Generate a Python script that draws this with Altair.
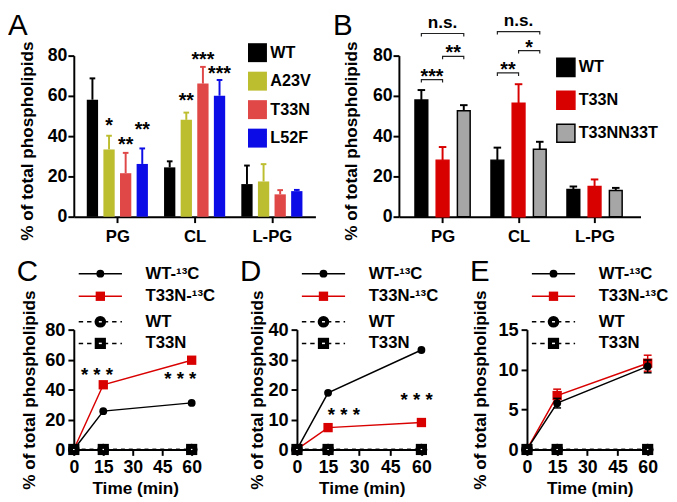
import json
import altair as alt
import pandas as pd

FONT = "Liberation Sans"
RED = "#d90000"

# ---------------- data ----------------
CATS = ["PG", "CL", "L-PG"]

A_SERIES = ["WT", "A23V", "T33N", "L52F"]
A_COLORS = ["#000000", "#bdbd30", "#e04848", "#0c0ce6"]
A_MEAN = {"WT": [58.1, 24.5, 16.2], "A23V": [33.4, 48.1, 17.5],
          "T33N": [21.6, 66.1, 11.1], "L52F": [26.2, 60.1, 12.7]}
A_ERR = {"WT": [10.6, 3.0, 9.2], "A23V": [6.8, 3.6, 8.6],
         "T33N": [10.1, 8.3, 2.1], "L52F": [7.7, 7.8, 0.6]}
A_STARS = [("PG", "A23V", "*", 47.4), ("PG", "T33N", "**", 37.8), ("PG", "L52F", "**", 45.5),
           ("CL", "A23V", "**", 59.6), ("CL", "T33N", "***", 80.2), ("CL", "L52F", "***", 73.1)]

B_SERIES = ["WT", "T33N", "T33NN33T"]
B_COLORS = ["#000000", "#d90000", "#a6a6a6"]
B_STROKES = ["#000000", "#d90000", "#000000"]
B_MEAN = {"WT": [58.0, 28.1, 13.5], "T33N": [28.1, 56.3, 15.0], "T33NN33T": [52.6, 33.5, 13.0]}
B_ERR = {"WT": [4.9, 6.2, 1.5], "T33N": [6.5, 9.5, 3.5], "T33NN33T": [2.8, 3.7, 1.3]}
B_BRACKETS = [("PG", "WT", "T33N", "***", 68.1), ("PG", "T33N", "T33NN33T", "**", 79.6),
              ("PG", "WT", "T33NN33T", "n.s.", 91.0), ("CL", "WT", "T33N", "**", 71.4),
              ("CL", "T33N", "T33NN33T", "*", 82.5), ("CL", "WT", "T33NN33T", "n.s.", 91.9)]

TIME = [0, 15, 60]
TIME_TICKS = [0, 15, 30, 45, 60]
UNLAB_WT = [0, 0, 0]
UNLAB_T33N = [0, 0, 0]
C_WT13 = [0, 25.6, 31.1]
C_T13 = [0, 43.2, 59.6]
C_STARS = [(11.8, 52.6), (54.2, 49.7)]
D_WT13 = [0, 18.9, 33.2]
D_T13 = [0, 7.3, 9.0]
D_STARS = [(22.6, 12.7), (57.7, 17.7)]
E_WT13 = [0, 5.8, 10.4]
E_WT13_ERR = [0, 0.6, 0.8]
E_T13 = [0, 6.75, 10.8]
E_T13_ERR = [0, 0.8, 1.0]
E_STARS = []

LEGEND_LABELS = ["WT-\u00b9\u00b3C", "T33N-\u00b9\u00b3C", "WT", "T33N"]

YTITLE = "% of total phospholipids"
ONE = pd.DataFrame({"k": [0]})


def letter_layer(letter, x, y):
    return alt.Chart(ONE).mark_text(align="left", baseline="alphabetic", font=FONT,
                                    fontSize=30, color="black").encode(
        x=alt.value(x), y=alt.value(y), text=alt.value(letter))


def ytitle_layer(cx, cy):
    # rotated y-axis title; cx/cy = centre of the ink, baseline sits 0.255em to its right
    return alt.Chart(ONE).mark_text(angle=270, align="center", baseline="alphabetic", font=FONT,
                                    fontSize=17.5, fontWeight="bold", color="black").encode(
        x=alt.value(cx + 4.5), y=alt.value(cy), text=alt.value(YTITLE))


# ---------------- bar panels ----------------
def bar_panel(letter, series, fills, strokes, means, errs, stars, brackets, step, bar_w,
              cap_px, xdom, width, height, legend, title_cx, bar_stroke_w):
    n = len(series)
    ppu = width / (xdom[1] - xdom[0])
    cap = cap_px / ppu

    def pos(cat, s):
        return CATS.index(cat) + (series.index(s) - (n - 1) / 2) * step

    rows = []
    for s in series:
        for gi, c in enumerate(CATS):
            m, e = means[s][gi], errs[s][gi]
            p = pos(c, s)
            rows.append(dict(series=s, pos=p, mean=m, top=m + e, capl=p - cap, capr=p + cap))
    df = pd.DataFrame(rows)

    xs = alt.Scale(domain=xdom, nice=False, zero=False)
    xax = alt.Axis(values=list(range(len(CATS))), labelExpr=f"{json.dumps(CATS)}[datum.value]",
                   title=None, labelFontSize=17, labelPadding=6)
    ys = alt.Scale(domain=[0, 80], nice=False)
    yax = alt.Axis(values=[0, 20, 40, 60, 80], title=None, labelFontSize=18, labelPadding=1)

    def X(f):
        return alt.X(f, scale=xs, axis=xax)

    def Y(f):
        return alt.Y(f, scale=ys, axis=yax)

    fill = alt.Fill("series:N", scale=alt.Scale(domain=series, range=fills), legend=legend)
    stroke = alt.Stroke("series:N", scale=alt.Scale(domain=series, range=strokes), legend=legend)

    layers = [
        alt.Chart(df).mark_bar(orient="vertical", size=bar_w, strokeWidth=bar_stroke_w).encode(
            x=X("pos:Q"), y=Y("mean:Q"), fill=fill, stroke=stroke),
        alt.Chart(df).mark_rule(strokeWidth=2).encode(
            x=X("pos:Q"), y=Y("mean:Q"), y2="top:Q", stroke=stroke),
        alt.Chart(df).mark_rule(strokeWidth=2).encode(
            x=X("capl:Q"), x2="capr:Q", y=Y("top:Q"), stroke=stroke),
    ]
    if stars:
        sdf = pd.DataFrame([dict(pos=pos(c, s), val=v, label=l) for c, s, l, v in stars])
        layers.append(alt.Chart(sdf).mark_text(font=FONT, fontSize=20, fontWeight="bold",
                                               baseline="alphabetic", dy=11, color="black").encode(
            x=X("pos:Q"), y=Y("val:Q"), text="label:N"))
    if brackets:
        drop = 3 / (height / 80)
        lrows, trows = [], []
        for i, (c, s1, s2, l, lev) in enumerate(brackets):
            x1, x2 = pos(c, s1), pos(c, s2)
            for o, (xx, yy) in enumerate([(x1, lev - drop), (x1, lev), (x2, lev), (x2, lev - drop)]):
                lrows.append(dict(bid=i, o=o, bx=xx, by=yy))
            trows.append(dict(tx=(x1 + x2) / 2, ty=lev, label=l, ns=(l == "n.s.")))
        ldf = pd.DataFrame(lrows)
        tdf = pd.DataFrame(trows)
        layers.append(alt.Chart(ldf).mark_line(color="#222222", strokeWidth=1.2).encode(
            x=X("bx:Q"), y=Y("by:Q"), detail="bid:N", order="o:Q"))
        layers.append(alt.Chart(tdf[~tdf.ns]).mark_text(font=FONT, fontSize=20, fontWeight="bold",
                                                        baseline="alphabetic", dy=3, color="black").encode(
            x=X("tx:Q"), y=Y("ty:Q"), text="label:N"))
        layers.append(alt.Chart(tdf[tdf.ns]).mark_text(font=FONT, fontSize=17.5, fontWeight="bold",
                                                       baseline="alphabetic", dy=-6, color="black").encode(
            x=X("tx:Q"), y=Y("ty:Q"), text="label:N"))
    layers.append(ytitle_layer(title_cx, 87))
    layers.append(letter_layer(letter, -67, -21))
    return alt.layer(*layers).properties(width=width, height=height)


legA = alt.Legend(orient="none", legendX=177, legendY=-13, title=None, symbolType="square",
                  symbolSize=372, symbolStrokeWidth=0, labelFont=FONT, labelFontSize=16.5,
                  labelFontWeight="bold", labelColor="black", rowPadding=9, labelOffset=3, padding=0,
                  symbolOpacity=1)
legB = alt.Legend(orient="none", legendX=160, legendY=2, title=None, symbolType="square",
                  symbolSize=340, symbolStrokeWidth=1.5, labelFont=FONT, labelFontSize=16.5,
                  labelFontWeight="bold", labelColor="black", rowPadding=7.5, labelOffset=3, padding=0,
                  symbolOpacity=1)

A = bar_panel("A", A_SERIES, A_COLORS, A_COLORS, A_MEAN, A_ERR, A_STARS, None, 0.215, 11.5,
              3, [-0.5, 2.5], 246, 164, legA, -46.5, 0)
B = bar_panel("B", B_SERIES, B_COLORS, B_STROKES, B_MEAN, B_ERR, None, B_BRACKETS, 0.279, 13,
              4, [-0.51, 2.54], 246, 164, legB, -47.5, 1.5)

# ---------------- line panels ----------------
XMAX = 62.5
LEG_Y = [-57, -34, -8, 14]


def line_panel(letter, wt13, t13, ymax, yticks, stars, width, title_cx, wt_err=None, t_err=None):
    height = 122
    ppm = width / XMAX
    cap = 4 / ppm
    xs = alt.Scale(domain=[0, XMAX], nice=False, zero=False)
    xax = alt.Axis(values=TIME_TICKS, title="Time (min)", titleY=45, titleBaseline="alphabetic",
                   titleFontSize=17.5, labelFontSize=18, labelPadding=3)
    ys = alt.Scale(domain=[0, ymax], nice=False)
    yax = alt.Axis(values=yticks, title=None, labelFontSize=18.5, labelPadding=3)

    def X(f):
        return alt.X(f, scale=xs, axis=xax)

    def Y(f):
        return alt.Y(f, scale=ys, axis=yax)

    def frame(vals, errs=None):
        d = pd.DataFrame({"time": TIME, "value": vals})
        if errs is not None:
            d["err"] = errs
            d["lo"] = d["value"] - d["err"]
            d["hi"] = d["value"] + d["err"]
            d["capl"] = d["time"] - cap
            d["capr"] = d["time"] + cap
            d = d[d["err"] > 0]
        return d

    def errlayers(vals, errs, col):
        d = frame(vals, errs)
        return [
            alt.Chart(d).mark_rule(color=col, strokeWidth=1.5).encode(x=X("time:Q"), y=Y("lo:Q"), y2="hi:Q"),
            alt.Chart(d).mark_rule(color=col, strokeWidth=1.5).encode(x=X("capl:Q"), x2="capr:Q", y=Y("hi:Q")),
            alt.Chart(d).mark_rule(color=col, strokeWidth=1.5).encode(x=X("capl:Q"), x2="capr:Q", y=Y("lo:Q")),
        ]

    layers = [
        alt.Chart(frame(UNLAB_WT)).mark_line(color="black", strokeWidth=1.5, strokeDash=[4, 4]).encode(
            x=X("time:Q"), y=Y("value:Q")),
        alt.Chart(frame(UNLAB_T33N)).mark_line(color="black", strokeWidth=1.5, strokeDash=[4, 4]).encode(
            x=X("time:Q"), y=Y("value:Q")),
    ]
    if t_err is not None:
        layers += errlayers(t13, t_err, RED)
    layers += [
        alt.Chart(frame(t13)).mark_line(color=RED, strokeWidth=1.5).encode(x=X("time:Q"), y=Y("value:Q")),
        alt.Chart(frame(t13)).mark_point(shape="square", filled=True, size=90, color=RED, opacity=1).encode(
            x=X("time:Q"), y=Y("value:Q")),
    ]
    if wt_err is not None:
        layers += errlayers(wt13, wt_err, "black")
    layers += [
        alt.Chart(frame(wt13)).mark_line(color="black", strokeWidth=1.5).encode(x=X("time:Q"), y=Y("value:Q")),
        alt.Chart(frame(wt13)).mark_point(shape="circle", filled=True, size=64, color="black", opacity=1).encode(
            x=X("time:Q"), y=Y("value:Q")),
        alt.Chart(frame(UNLAB_WT)).mark_point(shape="circle", filled=True, size=140, color="black", opacity=1).encode(
            x=X("time:Q"), y=Y("value:Q")),
        alt.Chart(frame(UNLAB_T33N)).mark_point(shape="square", filled=True, size=130, color="black", opacity=1).encode(
            x=X("time:Q"), y=Y("value:Q")),
        alt.Chart(frame(UNLAB_T33N)).mark_point(shape="M-0.15,0L0.15,0", filled=False, size=100, color="white",
                                                strokeWidth=1.2, opacity=1).encode(x=X("time:Q"), y=Y("value:Q")),
    ]
    if stars:
        sdf = pd.DataFrame([dict(t=t, v=v, label="* * *") for t, v in stars])
        layers.append(alt.Chart(sdf).mark_text(font=FONT, fontSize=19, fontWeight="bold", baseline="alphabetic",
                                               dy=10, color="black").encode(
            x=X("t:Q"), y=Y("v:Q"), text="label:N"))

    # legend (hand-built, sits above the plot like the original)
    styles = [("black", False, "circle", 64), (RED, False, "square", 90),
              ("black", True, "circle", 140), ("black", True, "square", 130)]
    for lab, py, (col, dashed, shp, sz) in zip(LEGEND_LABELS, LEG_Y, styles):
        rule_kw = dict(color=col, strokeWidth=1.5)
        if dashed:
            rule_kw["strokeDash"] = [4.5, 4]
        layers.append(alt.Chart(ONE).mark_rule(**rule_kw).encode(
            x=alt.value(5), x2=alt.value(49), y=alt.value(py)))
        layers.append(alt.Chart(ONE).mark_point(shape=shp, filled=True, size=sz, color=col, opacity=1).encode(
            x=alt.value(27), y=alt.value(py)))
        if dashed:
            layers.append(alt.Chart(ONE).mark_point(shape="M-0.3,0L0.3,0", filled=False, size=100, color="white",
                                                    strokeWidth=1.5, opacity=1).encode(
                x=alt.value(27), y=alt.value(py)))
        layers.append(alt.Chart(ONE).mark_text(align="left", baseline="middle", font=FONT, fontSize=17,
                                               fontWeight="bold", color="black").encode(
            x=alt.value(73), y=alt.value(py), text=alt.value(lab)))
    layers.append(ytitle_layer(title_cx, 61.5))
    layers.append(letter_layer(letter, -58, -50))
    return alt.layer(*layers).properties(width=width, height=height)


C = line_panel("C", C_WT13, C_T13, 80, [0, 20, 40, 60, 80], C_STARS, 125, -44.5)
D = line_panel("D", D_WT13, D_T13, 40, [0, 10, 20, 30, 40], D_STARS, 132, -39)
E = line_panel("E", E_WT13, E_T13, 15, [0, 5, 10, 15], E_STARS, 128, -46,
               wt_err=E_WT13_ERR, t_err=E_T13_ERR)

IND = dict(x="independent", y="independent", fill="independent", stroke="independent")
row1 = alt.hconcat(A, B, spacing=85, bounds="flush").resolve_scale(**IND)
row2 = alt.hconcat(C, D, E, spacing=102.2, bounds="flush").resolve_scale(x="independent", y="independent")
chart = alt.vconcat(row1, row2, spacing=13).resolve_scale(**IND).properties(
    padding={"left": 0, "top": -1, "right": 0, "bottom": 0}
).configure_axis(
    domainColor="black", domainWidth=2, tickColor="black", tickWidth=2, tickSize=6,
    labelColor="black", titleColor="black", labelFont=FONT, titleFont=FONT,
    labelFontWeight="bold", titleFontWeight="bold", grid=False, labelFlush=False,
    labelOverlap=False
).configure_view(stroke=None)

chart.save("out.html", embed_options={"renderer": "svg", "actions": False})
